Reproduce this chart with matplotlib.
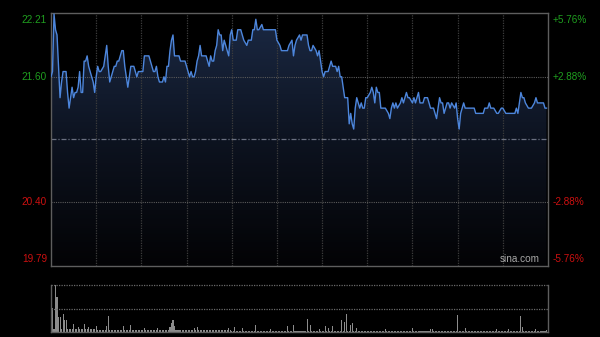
import matplotlib
matplotlib.use("Agg")
import matplotlib.pyplot as plt
import matplotlib.transforms as mtransforms
import numpy as np
from matplotlib.colors import LinearSegmentedColormap

# ---------------- data ----------------
prev_close = 21.00
price_min, price_max = 19.79, 22.21
left_labels = ["22.21", "21.60", "20.40", "19.79"]
left_values = [22.21, 21.60, 20.40, 19.79]
right_labels = ["+5.76%", "+2.88%", "-2.88%", "-5.76%"]
session_minutes = 330

price_minutes = [0, 1, 2, 3, 4, 5, 6, 7, 8, 10, 11, 12, 13, 14, 15, 16, 17, 18, 19, 20,
                 21, 22, 23, 24, 25, 26, 27, 28, 29, 30, 31, 32, 33, 35, 36, 37, 38, 39, 40, 42,
                 43, 44, 45, 47, 48, 49, 50, 51, 52, 53, 55, 56, 57, 58, 61, 62, 65, 66, 68, 69,
                 70, 71, 72, 74, 75, 76, 77, 78, 79, 80, 81, 82, 85, 86, 89, 90, 92, 93, 94, 95,
                 96, 97, 98, 99, 100, 103, 104, 105, 106, 107, 108, 109, 110, 111, 112, 113, 114, 115, 116, 117,
                 118, 119, 120, 121, 122, 123, 124, 126, 127, 128, 130, 131, 133, 134, 135, 136, 137, 138, 140, 141,
                 149, 150, 152, 153, 157, 158, 160, 161, 162, 163, 165, 166, 167, 170, 171, 172, 173, 174, 176, 177,
                 178, 179, 180, 181, 182, 184, 185, 186, 187, 189, 190, 191, 192, 193, 194, 195, 197, 198, 199, 200,
                 201, 202, 203, 204, 205, 206, 207, 208, 209, 210, 212, 213, 214, 215, 216, 217, 218, 219, 221, 222,
                 224, 225, 226, 227, 228, 229, 230, 232, 233, 234, 235, 236, 237, 238, 240, 241, 242, 243, 244, 245,
                 247, 248, 250, 251, 252, 254, 255, 256, 257, 258, 259, 260, 261, 263, 264, 265, 266, 268, 269, 270,
                 271, 272, 273, 274, 275, 281, 282, 287, 288, 290, 291, 292, 294, 296, 297, 299, 300, 302, 308, 309,
                 310, 311, 312, 313, 314, 315, 317, 319, 321, 322, 323, 325, 327, 328, 329]

price_values = [21.60, 21.65, 22.20, 22.05, 22.00, 21.70, 21.40, 21.55, 21.65, 21.65, 21.45, 21.30, 21.40, 21.50, 21.40, 21.45, 21.45, 21.50, 21.65, 21.45,
                21.45, 21.75, 21.75, 21.80, 21.70, 21.65, 21.60, 21.55, 21.45, 21.60, 21.70, 21.65, 21.65, 21.70, 21.80, 21.90, 21.70, 21.55, 21.60, 21.70,
                21.70, 21.75, 21.75, 21.85, 21.85, 21.70, 21.60, 21.50, 21.60, 21.70, 21.70, 21.65, 21.60, 21.65, 21.65, 21.80, 21.80, 21.75, 21.65, 21.65,
                21.70, 21.60, 21.55, 21.55, 21.60, 21.55, 21.70, 21.70, 21.85, 21.95, 22.00, 21.80, 21.80, 21.75, 21.75, 21.70, 21.60, 21.65, 21.60, 21.60,
                21.65, 21.75, 21.80, 21.90, 21.80, 21.80, 21.75, 21.70, 21.80, 21.75, 21.75, 21.85, 21.90, 22.05, 22.00, 22.00, 21.85, 21.95, 21.90, 21.85,
                21.80, 22.00, 22.05, 21.95, 21.95, 21.95, 22.05, 22.05, 22.00, 21.95, 21.90, 21.95, 21.95, 22.05, 22.05, 22.15, 22.05, 22.05, 22.10, 22.05,
                22.05, 21.95, 21.90, 21.85, 21.85, 21.90, 21.95, 21.80, 21.90, 21.95, 22.00, 21.95, 22.00, 22.00, 21.90, 21.85, 21.85, 21.90, 21.85, 21.80,
                21.85, 21.75, 21.65, 21.60, 21.65, 21.65, 21.70, 21.75, 21.70, 21.70, 21.65, 21.70, 21.60, 21.60, 21.50, 21.40, 21.40, 21.15, 21.25, 21.15,
                21.10, 21.30, 21.40, 21.35, 21.30, 21.35, 21.30, 21.30, 21.40, 21.40, 21.45, 21.50, 21.45, 21.35, 21.50, 21.45, 21.45, 21.30, 21.30, 21.30,
                21.25, 21.20, 21.30, 21.35, 21.30, 21.35, 21.30, 21.35, 21.40, 21.35, 21.40, 21.45, 21.40, 21.40, 21.35, 21.40, 21.35, 21.40, 21.45, 21.35,
                21.35, 21.40, 21.40, 21.35, 21.30, 21.30, 21.25, 21.20, 21.30, 21.40, 21.35, 21.35, 21.25, 21.35, 21.35, 21.30, 21.35, 21.30, 21.35, 21.20,
                21.10, 21.25, 21.30, 21.35, 21.30, 21.30, 21.25, 21.25, 21.30, 21.30, 21.35, 21.30, 21.30, 21.25, 21.25, 21.30, 21.30, 21.25, 21.25, 21.30,
                21.25, 21.35, 21.45, 21.40, 21.40, 21.35, 21.30, 21.30, 21.35, 21.40, 21.35, 21.35, 21.35, 21.30, 21.30]

# volume: visible spikes (minute, volume) and a typical small level per half-hour block
vol_spike_minutes = [0, 1, 3, 4, 5, 6, 8, 9, 10, 15, 18, 22, 25, 30, 37, 38, 48, 53, 62, 71,
                     79, 80, 81, 82, 95, 97, 118, 122, 127, 136, 146, 157, 161, 170, 172, 178, 182, 184, 187, 193,
                     195, 196, 199, 200, 203, 222, 240, 252, 253, 270, 275, 296, 304, 312, 313, 322, 329]
vol_spike_values = [32, 24, 47, 35, 15, 15, 18, 12, 12, 8, 5, 8, 5, 6, 6, 16, 6, 7, 4, 4,
                    5, 9, 12, 6, 4, 5, 4, 5, 4, 7, 3, 6, 7, 13, 7, 3, 6, 4, 6, 12,
                    10, 18, 7, 9, 4, 3, 4, 3, 3, 17, 4, 3, 3, 16, 5, 3, 2]
vol_block_level = [3.5, 2.5, 2.0, 1.6, 1.5, 1.5, 1.5, 1.3, 1.2, 1.1, 1.2]

# ---------------- figure ----------------
W, H = 600, 337
fig = plt.figure(figsize=(W / 100, H / 100), dpi=100, facecolor="black")
ax = fig.add_axes([51 / W, 71 / H, 497 / W, 253 / H])
axv = fig.add_axes([51 / W, 5 / H, 497 / W, 47 / H])

font = "Liberation Sans"
grid_col = "#3c3c3c"
border_col = "#5e5e5e"

for a in (ax, axv):
    a.set_facecolor("black")
    a.set_xlim(0, session_minutes)
    a.set_xticks([])
    a.set_yticks([])
    for s in a.spines.values():
        s.set_color(border_col)
        s.set_linewidth(1.0)

ax.set_ylim(price_min, price_max)

# gradient area under the price line
cmap = LinearSegmentedColormap.from_list("fade", ["#030305", "#0d1320", "#1b2944"])
grad = np.linspace(0, 1, 256).reshape(-1, 1)
im = ax.imshow(grad, extent=[0, session_minutes, price_min, price_max], origin="lower",
               aspect="auto", cmap=cmap, zorder=1)
poly = ax.fill_between(price_minutes, price_values, price_min, facecolor="none",
                       edgecolor="none", zorder=1)
im.set_clip_path(poly.get_paths()[0], transform=ax.transData)

# grid
for i in range(1, 11):
    ax.axvline(i * 30, color=grid_col, lw=0.9, ls=(0, (1, 1)), zorder=2)
for v in (21.60, 20.40):
    ax.axhline(v, color="#5a5a5a", lw=0.8, ls=(0, (1, 1)), zorder=2)
ax.axhline(prev_close, color="#6a7080", lw=0.9, ls=(0, (4, 1.5, 1, 1.5)), zorder=2)

ax.plot(price_minutes, price_values, color="#4d86dc", lw=1.0, zorder=3,
        solid_joinstyle="round")

# axis labels
tl = mtransforms.blended_transform_factory(ax.transAxes, ax.transData)
colors = ["#1f9e1f", "#1f9e1f", "#cc1010", "#cc1010"]
for i, (lab, rlab, v, c) in enumerate(zip(left_labels, right_labels, left_values, colors)):
    if i == 0:
        va, dy = "top", -2
    elif i == 3:
        va, dy = "bottom", 2
    else:
        va, dy = "center", 0
    tr = mtransforms.offset_copy(tl, fig=fig, y=dy, units="dots")
    ax.text(-4 / 497, v, lab, transform=tr, ha="right", va=va, color=c,
            fontsize=7.2, family=font, clip_on=False)
    ax.text(1 + 5 / 497, v, rlab, transform=tr, ha="left", va=va, color=c,
            fontsize=7.2, family=font, clip_on=False)

ax.text(489 / 497, 1.5 / 253, "sina.com", transform=ax.transAxes, ha="right",
        va="bottom", color="#a8a8a8", fontsize=7.2, family=font, zorder=4)

# volume panel
vol = [vol_block_level[m // 30] for m in range(session_minutes)]
for m, v in zip(vol_spike_minutes, vol_spike_values):
    vol[m] = v
vmax = max(vol)
axv.set_ylim(0, vmax)
axv.bar(range(session_minutes), vol, width=0.7, color="#8c8c8c", align="center", zorder=2)
axv.spines["top"].set_visible(False)
axv.axhline(vmax, color="#6a6a6a", lw=0.9, ls=(0, (1, 1)), zorder=3, clip_on=False)
axv.axhline(vmax / 2, color="#6a6a6a", lw=0.9, ls=(0, (1, 1)), zorder=3)

fig.savefig("out.png", dpi=100, facecolor="black")
